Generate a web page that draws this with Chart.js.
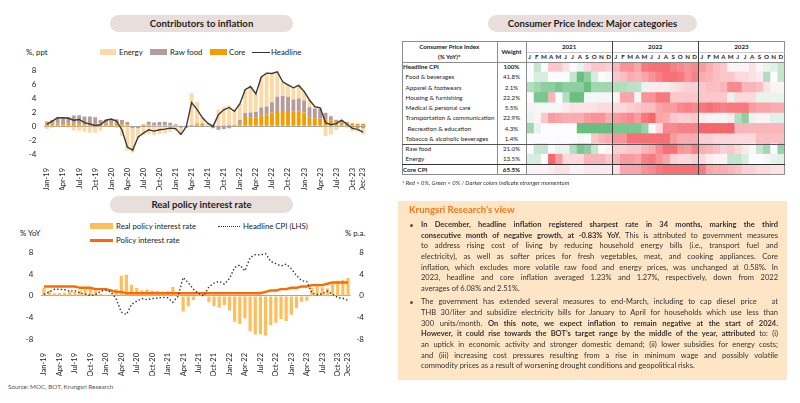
<!DOCTYPE html>
<html><head><meta charset="utf-8">
<script src="https://cdn.jsdelivr.net/npm/chart.js@4.4.1/dist/chart.umd.min.js"></script>
<style>
html,body{margin:0;padding:0;background:#fff;}
body{width:800px;height:403px;position:relative;overflow:hidden;font-family:Lato,"Noto Sans",sans-serif;color:#222;}
.a{position:absolute;white-space:nowrap;}
.pill{position:absolute;background:#e8dedb;border-radius:9px;text-align:center;font-weight:bold;font-size:9.6px;color:#1e1e1e;}
.lg{position:absolute;font-size:7.8px;line-height:10px;white-space:nowrap;color:#222;}
.sw{position:absolute;}
canvas{position:absolute;}
.hl{position:absolute;font-size:6.2px;white-space:nowrap;color:#222;}
.hb{font-weight:bold;}
.ln{position:absolute;}
.box{position:absolute;left:398px;top:201px;width:389px;height:179px;background:#fde5c6;}
.tl{position:absolute;left:421px;width:357px;font-size:7.5px;line-height:10px;color:#333;white-space:nowrap;text-align:justify;text-align-last:justify;}
.tl.last{text-align-last:left;}
.dot{position:absolute;left:410px;width:3px;height:3px;border-radius:50%;background:#555;}
</style></head>
<body>
<!-- Chart 1 -->
<div class="pill" style="left:110px;top:15px;width:183px;height:17px;line-height:17px;">Contributors to inflation</div>
<div class="a" style="left:26px;top:47px;font-size:7.8px;">%, ppt</div>
<div class="sw" style="left:100px;top:49px;width:16px;height:6px;background:#fdd9a6;"></div>
<div class="lg" style="left:119px;top:47px;">Energy</div>
<div class="sw" style="left:150px;top:49px;width:17px;height:6px;background:#b69b9c;"></div>
<div class="lg" style="left:170px;top:47px;">Raw food</div>
<div class="sw" style="left:210px;top:49px;width:17px;height:6px;background:#f59c00;"></div>
<div class="lg" style="left:229px;top:47px;">Core</div>
<div class="sw" style="left:252px;top:51.5px;width:18px;height:1.5px;background:#333;"></div>
<div class="lg" style="left:271px;top:47px;">Headline</div>
<canvas id="c1" width="400" height="132" style="left:0;top:58px;width:400px;height:132px;"></canvas>

<!-- Chart 2 -->
<div class="pill" style="left:110px;top:196px;width:183px;height:17px;line-height:17px;">Real policy interest rate</div>
<div class="sw" style="left:90px;top:223px;width:23px;height:6px;background:#ffbe5c;"></div>
<div class="lg" style="left:116px;top:221px;">Real policy interest rate</div>
<div class="sw" style="left:218px;top:225.5px;width:22px;height:0;border-top:1.5px dotted #333;"></div>
<div class="lg" style="left:243px;top:221px;">Headline CPI (LHS)</div>
<div class="sw" style="left:90px;top:239px;width:23px;height:2.5px;background:#ff6a00;"></div>
<div class="lg" style="left:116px;top:235px;">Policy interest rate</div>
<div class="a" style="left:20px;top:228px;font-size:7.8px;">% YoY</div>
<div class="a" style="left:345px;top:228px;font-size:7.8px;">% p.a.</div>
<canvas id="c2" width="400" height="136" style="left:0;top:240px;width:400px;height:136px;"></canvas>
<div class="a" style="left:8px;top:383px;font-size:6.3px;color:#555;">Source: MOC, BOT, Krungsri Research</div>

<!-- Heatmap -->
<div class="pill" style="left:488px;top:15px;width:209px;height:17px;line-height:17px;">Consumer Price Index: Major categories</div>
<div id="tbl"></div>
<canvas id="c3" width="258" height="113" style="left:526px;top:62px;width:258px;height:113px;"></canvas>
<div id="tblov"></div>
<div class="a" style="left:402px;top:179px;font-size:5.9px;font-style:italic;color:#333;">* Red &gt; 0%, Green &lt; 0% / Darker colors indicate stronger momentum</div>

<!-- Text box -->
<div class="box"></div>
<div class="a" style="left:409px;top:204px;font-size:9.6px;font-weight:bold;color:#f07a1e;">Krungsri Research’s view</div>
<div class="dot" style="top:223.5px;"></div>
<div class="tl" style="top:220px;"><b>In December, headline inflation registered sharpest rate in 34 months, marking the third</b></div>
<div class="tl" style="top:230.7px;"><b>consecutive month of negative growth, at -0.83% YoY.</b> This is attributed to government measures</div>
<div class="tl" style="top:241.3px;">to address rising cost of living by reducing household energy bills (i.e., transport fuel and</div>
<div class="tl" style="top:252px;">electricity), as well as softer prices for fresh vegetables, meat, and cooking appliances. Core</div>
<div class="tl" style="top:262.7px;">inflation, which excludes more volatile raw food and energy prices, was unchanged at 0.58%. In</div>
<div class="tl" style="top:273.3px;">2023, headline and core inflation averaged 1.23% and 1.27%, respectively, down from 2022</div>
<div class="tl last" style="top:284px;">averages of 6.08% and 2.51%.</div>
<div class="dot" style="top:300.8px;"></div>
<div class="tl" style="top:297.3px;">The government has extended several measures to end-March, including to cap diesel price&nbsp;&nbsp;&nbsp;at</div>
<div class="tl" style="top:308px;">THB 30/liter and subsidize electricity bills for January to April for households which use less than</div>
<div class="tl" style="top:318.7px;">300 units/month. <b>On this note, we expect inflation to remain negative at the start of 2024.</b></div>
<div class="tl" style="top:329.3px;"><b>However, it could rise towards the BOT’s target range by the middle of the year, attributed</b> to: (i)</div>
<div class="tl" style="top:340px;">an uptick in economic activity and stronger domestic demand; (ii) lower subsidies for energy costs;</div>
<div class="tl" style="top:350.7px;">and (iii) increasing cost pressures resulting from a rise in minimum wage and possibly volatile</div>
<div class="tl last" style="top:361.3px;">commodity prices as a result of worsening drought conditions and geopolitical risks.</div>

<script>
// ---------- DATA ----------
const monthNames = ['Jan','Feb','Mar','Apr','May','Jun','Jul','Aug','Sep','Oct','Nov','Dec'];
const yearSuffixes = ['19','20','21','22','23'];
const labels = [];
yearSuffixes.forEach(y => monthNames.forEach(m => labels.push(m + '-' + y)));

// Contributors to inflation (ppt)
const energy = [
 -0.4,-0.2,-0.05,0.05,-0.2,-0.6,-0.6,-0.8,-0.9,-0.95,-0.6,-0.1,
 0.0,-0.25,-1.4,-3.5,-3.5,-1.4,-1.2,-1.1,-1.25,-1.1,-1.05,-0.8,
 -0.6,-1.0,0.1,4.6,3.1,0.8,0.35,0.2,2.3,2.6,2.8,2.0,
 2.3,3.4,3.7,2.6,4.4,4.8,4.2,3.6,2.1,1.7,1.7,1.9,
 1.3,1.0,0.3,0.15,-1.4,-1.2,-0.55,0.0,-0.2,-0.5,-0.55,-0.9];
const rawFood = [
 0.3,0.5,0.9,0.9,1.0,1.2,1.3,1.1,1.1,1.0,0.6,0.6,
 0.7,0.65,0.6,0.3,-0.3,-0.3,-0.1,0.4,0.4,0.45,0.5,0.35,
 0.15,-0.2,-0.2,0.0,0.1,0.1,0.0,-0.3,-0.5,-0.4,-0.3,0.0,
 0.6,0.7,0.7,0.75,1.2,1.2,1.5,2.2,2.3,2.2,1.75,1.9,
 1.7,1.45,1.4,1.4,0.95,0.6,0.4,0.35,0.2,-0.2,-0.25,-0.3];
const core = [
 0.4,0.4,0.4,0.3,0.35,0.35,0.3,0.3,0.3,0.3,0.3,0.35,
 0.35,0.35,0.3,0.3,0.0,0.0,0.25,0.25,0.15,0.15,0.15,0.15,
 0.15,0.12,0.06,0.18,0.3,0.35,0.1,0.05,0.12,0.14,0.19,0.19,
 0.35,1.2,1.3,1.3,1.5,1.65,1.95,2.05,2.05,2.05,2.1,2.1,
 2.0,1.3,1.15,1.1,1.0,0.85,0.55,0.5,0.4,0.43,0.38,0.38];
const headline = [
 0.27,0.73,1.24,1.23,1.15,0.87,0.98,0.52,0.32,0.11,0.21,0.87,
 1.05,0.74,-0.54,-2.99,-3.44,-1.57,-0.98,-0.50,-0.70,-0.50,-0.41,-0.27,
 -0.34,-1.17,-0.08,3.41,2.44,1.25,0.45,-0.02,1.68,2.38,2.71,2.17,
 3.23,5.28,5.73,4.65,7.10,7.66,7.61,7.86,6.41,5.98,5.55,5.89,
 5.02,3.79,2.83,2.67,0.53,0.23,0.38,0.88,0.30,-0.31,-0.44,-0.83];

// Real policy interest rate chart
const realRate = [
 1.48,1.02,0.51,0.52,0.60,0.88,0.77,0.98,1.18,1.39,1.04,0.38,
 0.20,0.26,1.29,3.74,3.94,2.07,1.48,1.00,1.20,1.00,0.91,0.77,
 0.84,1.67,0.58,-2.91,-1.94,-0.75,0.05,0.52,-1.18,-1.88,-2.21,-1.67,
 -2.73,-4.78,-5.23,-4.15,-6.60,-7.16,-7.11,-7.36,-5.41,-4.98,-4.30,-4.64,
 -3.52,-2.29,-1.08,-0.92,1.47,1.77,1.62,1.37,2.20,2.81,2.94,3.33];
const policyRate = [
 1.75,1.75,1.75,1.75,1.75,1.75,1.75,1.50,1.50,1.50,1.25,1.25,
 1.25,1.00,0.75,0.75,0.50,0.50,0.50,0.50,0.50,0.50,0.50,0.50,
 0.50,0.50,0.50,0.50,0.50,0.50,0.50,0.50,0.50,0.50,0.50,0.50,
 0.50,0.50,0.50,0.50,0.50,0.50,0.50,0.75,1.00,1.00,1.25,1.25,
 1.50,1.50,1.75,1.75,2.00,2.00,2.00,2.25,2.50,2.50,2.50,2.50];

const yTicks1 = [-4,-2,0,2,4,6,8];
const yTicks2 = [-8,-6,-4,-2,0,2,4,6,8];

// Heatmap (colour intensity, -1 green .. +1 red), Jan-21..Dec-23
const heatRowNames = ['Headline CPI','Food & beverages','Apparel & footwears','Housing & furnishing','Medical & personal care','Transportation & communication','Recreation & education','Tobacco & alcoholic beverages','Raw food','Energy','Core CPI'];
const heatWeights = ['100%','41.8%','2.1%','22.2%','5.5%','22.9%','4.3%','1.4%','21.0%','13.5%','65.5%'];
const heatYears = ['2021','2022','2023'];
const heatMonthLetters = ['J','F','M','A','M','J','J','A','S','O','N','D'];
const hHeadline = [0,-0.3,0,0.3,0.3,0.15,0,-0.1,0.2,0.3,0.3,0.25, 0.4,0.6,0.6,0.5,0.75,0.8,0.8,0.8,0.7,0.65,0.6,0.65, 0.55,0.45,0.35,0.3,0.05,0.05,0.05,0.15,0.05,-0.1,-0.15,-0.3];
const hFood = [0,-0.2,-0.2,0,0,0,-0.3,-0.8,-0.6,-0.2,0,0.05, 0.3,0.35,0.45,0.4,0.5,0.6,0.7,0.8,0.8,0.75,0.6,0.7, 0.45,0.4,0.35,0.3,0.3,0.2,0.2,0.15,0.1,-0.4,0,-0.3];
const hApparel = [-0.4,-0.5,-0.6,-0.6,-0.7,-0.6,-0.6,-0.6,-0.8,-0.5,-0.5,-0.5, -0.4,-0.4,-0.35,-0.35,-0.1,0.1,0.1,0.1,0.15,0.2,0.25,0.25, 0.3,0.35,0.35,0.4,0.65,0.65,0.4,0.4,0.35,0.15,0.05,0.05];
const hHousing = [0,-0.7,-0.7,0.4,0,-0.4,-0.8,-0.8,-0.05,-0.05,-0.05,-0.05, 0.05,0.5,0.5,0.05,0.6,0.6,0.75,0.75,0.3,0.3,0.3,0.3, 0.3,0.3,0.3,0.3,-0.1,0.2,0.2,0.2,-0.1,-0.1,-0.1,-0.1];
const hMedical = [0.05,-0.05,-0.05,-0.05,-0.05,0.1,0.15,0.15,0.15,0.15,0.2,0.2, 0.2,0.2,0.25,0.3,0.35,0.35,0.5,0.55,0.55,0.65,0.7,0.65, 0.75,0.8,0.75,0.7,0.75,0.75,0.75,0.55,0.5,0.5,0.45,0.45];
const hTransport = [-0.1,0.05,0.3,0.55,0.5,0.45,0.45,0.45,0.55,0.6,0.6,0.45, 0.55,0.6,0.65,0.55,0.75,0.85,0.5,0.45,0.3,0.25,0.25,0.3, 0.1,0.05,-0.05,-0.05,0.1,-0.4,-0.6,-0.1,0.05,0.05,-0.15,-0.15];
const hRecreation = [-0.5,-0.1,0,0,0,0,0,-0.8,-0.8,-0.8,-0.8,-0.8, -0.7,-0.7,-0.7,-0.7,-0.55,0.02,0.2,0.65,0.65,0.7,0.7,0.7, 0.85,0.85,0.85,0.85,0.9,0.4,0.4,0.4,0.4,0.4,0.4,0.4];
const hTobacco = [0,0,0,0,0,0,0,-0.05,0,0.3,0.4,0.45, 0.6,0.6,0.8,0.8,0.8,0.8,0.8,0.8,0.55,0.45,0.45,0.45, 0.25,0.25,0.2,0.2,0.2,0.2,0.2,0.2,0.35,0.35,0.35,0.35];
const hRawFood = [0,-0.3,-0.3,0,-0.1,-0.1,-0.4,-0.7,-0.6,-0.3,0,0.05, 0.25,0.25,0.3,0.3,0.4,0.45,0.65,0.8,0.8,0.6,0.55,0.7, 0.45,0.4,0.35,0.25,0.3,0.2,0.1,-0.05,-0.3,-0.5,0,-0.55];
const hEnergy = [-0.2,-0.2,0,0.85,0.55,0.2,0.2,0.2,0.4,0.4,0.4,0.3, 0.4,0.55,0.55,0.5,0.7,0.75,0.6,0.5,0.25,0.2,0.2,0.25, 0.2,0.1,0.05,0.05,-0.3,-0.3,-0.2,0,0,-0.05,-0.1,-0.15];
const hCore = [0.05,0.05,0.05,0.1,0.15,0.15,0.05,0.05,0.1,0.1,0.1,0.1, 0.15,0.5,0.5,0.5,0.6,0.65,0.75,0.8,0.8,0.8,0.8,0.8, 0.75,0.5,0.45,0.45,0.4,0.35,0.25,0.25,0.2,0.2,0.15,0.15];
const heatValues = [hHeadline,hFood,hApparel,hHousing,hMedical,hTransport,hRecreation,hTobacco,hRawFood,hEnergy,hCore];

// ---------- COMMON ----------
Chart.defaults.font.family = 'Lato, "Noto Sans", sans-serif';
Chart.defaults.color = '#222';
Chart.defaults.animation = false;
const zeroGrid = { color: c => (c.tick && c.tick.value === 0) ? '#a6a6a6' : 'rgba(0,0,0,0)', lineWidth: 1, drawTicks: false };
const xTickCb = (v, i) => (i % 3 === 0 || i === labels.length - 1) ? labels[i] : '';

// ---------- CHART 1 ----------
new Chart(document.getElementById('c1'), {
  data: { labels, datasets: [
    { type:'line', label:'Headline', data: headline, borderColor:'#3a3a3a', borderWidth:1.4, pointRadius:0, tension:0, order:0, stack:'l' },
    { type:'bar', label:'Core', data: core, backgroundColor:'#f59c00', stack:'s', order:1, barPercentage:0.72, categoryPercentage:1 },
    { type:'bar', label:'Raw food', data: rawFood, backgroundColor:'#b69b9c', stack:'s', order:1, barPercentage:0.72, categoryPercentage:1 },
    { type:'bar', label:'Energy', data: energy, backgroundColor:'#fdd9a6', stack:'s', order:1, barPercentage:0.72, categoryPercentage:1 }
  ]},
  options: {
    responsive:false, maintainAspectRatio:false,
    layout:{ padding:{ top:9, right:34.3, left:0, bottom:0 } },
    plugins:{ legend:{display:false}, tooltip:{enabled:false} },
    scales:{
      x:{ grid:{display:false}, border:{display:false},
          ticks:{ autoSkip:false, maxRotation:90, minRotation:90, padding:6, font:{size:7.5}, callback:xTickCb },
          afterFit: s => { s.height = 36; } },
      y:{ stacked:true, min:-4, max:8, grid:zeroGrid, border:{display:false},
          afterBuildTicks: s => { s.ticks = yTicks1.map(v => ({value:v})); },
          ticks:{ padding:8, font:{size:8} },
          afterFit: s => { s.width = 44.3; } }
    }
  }
});

// ---------- CHART 2 ----------
new Chart(document.getElementById('c2'), {
  data: { labels, datasets: [
    { type:'line', label:'Headline CPI (LHS)', data: headline, borderColor:'#333', borderWidth:1.4, borderDash:[1.4,2.2], pointRadius:0, tension:0, order:0, yAxisID:'y' },
    { type:'line', label:'Policy interest rate', data: policyRate, borderColor:'#ff6a00', borderWidth:2.4, pointRadius:0, tension:0, order:1, yAxisID:'y' },
    { type:'bar', label:'Real policy interest rate', data: realRate, backgroundColor:'#ffbe5c', order:2, barPercentage:0.62, categoryPercentage:1, yAxisID:'y' }
  ]},
  options: {
    responsive:false, maintainAspectRatio:false,
    layout:{ padding:{ top:8, right:36, left:0, bottom:0 } },
    plugins:{ legend:{display:false}, tooltip:{enabled:false} },
    scales:{
      x:{ grid:{display:false}, border:{display:false},
          ticks:{ autoSkip:false, maxRotation:90, minRotation:90, padding:6, font:{size:7.5}, callback:xTickCb },
          afterFit: s => { s.height = 37; } },
      y:{ position:'left', min:-8, max:8, grid:zeroGrid, border:{display:false},
          afterBuildTicks: s => { s.ticks = yTicks2.map(v => ({value:v})); },
          ticks:{ padding:8, font:{size:8} },
          afterFit: s => { s.width = 41.4; } },
      y2:{ position:'right', min:-8, max:8, grid:{display:false}, border:{display:false},
          afterBuildTicks: s => { s.ticks = yTicks2.map(v => ({value:v})); },
          ticks:{ padding:4, crossAlign:'far', font:{size:8} },
          afterFit: s => { s.width = 13.4; } }
    }
  }
});

// ---------- HEATMAP ----------
function cellColor(v){
  const w=[252,252,255], r=[246,100,105], g=[92,186,117];
  const t=Math.min(1,Math.abs(v)*1.15); const c=v>=0?r:g;
  return 'rgb('+w.map((x,i)=>Math.round(x+(c[i]-x)*t)).join(',')+')';
}
const nMonths = heatValues[0].length;
const heatDatasets = [];
for (let m = 0; m < nMonths; m++) {
  const cols = heatValues.map(row => cellColor(row[m]));
  heatDatasets.push({ label: 'm'+m, data: heatRowNames.map(() => 1), backgroundColor: cols, borderWidth: 0, inflateAmount: 0.6, barPercentage:1, categoryPercentage:1 });
}
new Chart(document.getElementById('c3'), {
  type:'bar',
  data:{ labels: heatRowNames, datasets: heatDatasets },
  options:{
    indexAxis:'y', responsive:false, maintainAspectRatio:false,
    layout:{padding:0},
    plugins:{ legend:{display:false}, tooltip:{enabled:false} },
    scales:{
      x:{ stacked:true, min:0, max:nMonths, display:false },
      y:{ stacked:true, display:false }
    }
  }
});

// table frame & text
(function(){
  const T = document.getElementById('tbl'), O = document.getElementById('tblov');
  const L=401.5, R=784.5, TOP=41, HB=62, BOT=175, C1=497, C2=526;
  const rowH = (BOT-HB)/heatRowNames.length;
  const cellW = (R-C2)/nMonths;
  let h='';
  const txt=(x,y,w,s,cls,align)=>`<div class="hl ${cls||''}" style="left:${x}px;top:${y}px;width:${w}px;text-align:${align||'left'};line-height:${rowH}px;height:${rowH}px;">${s}</div>`;
  h += txt(L, TOP+0.5, C1-L, 'Consumer Price Index','hb','center');
  h += txt(L, TOP+10.5, C1-L, '(% YoY)*','hb','center');
  h += txt(C1, TOP+5.5, C2-C1, 'Weight','hb','center');
  heatYears.forEach((y,i)=>{ h += txt(C2+i*12*cellW, TOP+0.5, 12*cellW, y, 'hb', 'center'); });
  for (let m=0;m<nMonths;m++) h += txt(C2+m*cellW, TOP+10.5, cellW, heatMonthLetters[m%12], 'hb', 'center');
  heatRowNames.forEach((n,i)=>{
    const bold = (i===0 || i===heatRowNames.length-1);
    const indent = bold ? 1.5 : (i===6 ? 6 : 4);
    h += txt(L+indent, HB+i*rowH, C1-L, n, bold?'hb':'', 'left');
    h += txt(C1, HB+i*rowH, C2-C1, heatWeights[i], bold?'hb':'', 'center');
  });
  T.innerHTML = h;
  let o='';
  const line=(x,y,w,hh,c)=>`<div class="ln" style="left:${x}px;top:${y}px;width:${w}px;height:${hh}px;background:${c};"></div>`;
  o += `<div class="ln" style="left:${L}px;top:${TOP}px;width:${R-L}px;height:${BOT-TOP}px;border:1px solid #8c8c8c;box-sizing:border-box;"></div>`;
  o += line(C2, TOP, R-C2, 1.2, '#8c8c8c');
  o += line(L, HB-0.5, R-L, 1, '#8c8c8c');
  o += line(C2, TOP+10.5, R-C2, 0.6, '#c8c8c8');
  o += line(C1-0.5, TOP, 1, BOT-TOP, '#8c8c8c');
  o += line(C2-0.5, TOP, 1, BOT-TOP, '#8c8c8c');
  o += line(C2+12*cellW-0.6, TOP, 1.2, BOT-TOP, '#404040');
  o += line(C2+24*cellW-0.6, TOP, 1.2, BOT-TOP, '#404040');
  o += line(L, HB+8*rowH-0.4, R-L, 0.8, '#555');
  o += line(L, HB+10*rowH-0.7, R-L, 1.4, '#333');
  O.innerHTML = o;
})();
</script>
</body></html>
